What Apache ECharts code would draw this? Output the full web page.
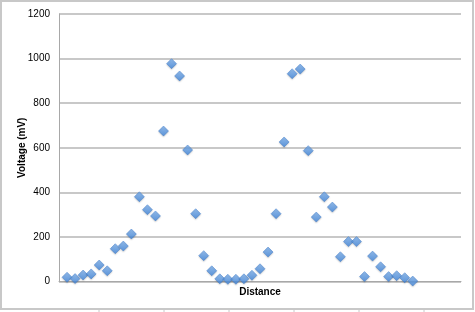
<!DOCTYPE html>
<html>
<head>
<meta charset="utf-8">
<script src="https://cdn.jsdelivr.net/npm/echarts@6/dist/echarts.min.js"></script>
<style>html,body{margin:0;padding:0;background:#fff}#c{width:475px;height:312px}</style>
</head>
<body>
<div id="c"></div>
<script>
var distance = [1,2,3,4,5,6,7,8,9,10,11,12,13,14,15,16,17,18,19,20,21,22,23,24,25,26,27,28,29,30,31,32,33,34,35,36,37,38,39,40,41,42,43,44];
var voltage = [19,13,29,34,74,48,147,159,213,380,322,294,675,977,922,590,304,116,48,12,10,10,12,28,57,132,304,626,932,953,587,289,380,334,111,179,179,22,114,66,22,26,17,2];
var yTicks = {min:0, max:1200, interval:200};
var xRange = {min:0, max:50};

var data = distance.map(function(d,i){return [d, voltage[i]];});
var chart = echarts.init(document.getElementById('c'), null, {renderer:'canvas'});
var frameTicks = [];
[99,164,229,294,359,424].forEach(function(x){
  frameTicks.push({type:'line', shape:{x1:x,y1:309,x2:x,y2:312}, style:{stroke:'#c8c8c8', lineWidth:1}});
});
chart.setOption({
  animation:false,
  backgroundColor:'#fff',
  graphic: [{type:'rect', shape:{x:1,y:1,width:472,height:308}, style:{fill:'none', stroke:'#c8c8c8', lineWidth:2}, z:-1}].concat(frameTicks),
  grid:{left:59, right:14, top:14, bottom:30.5, containLabel:false, outerBoundsMode:'none'},
  xAxis:{
    type:'value', min:xRange.min, max:xRange.max,
    name:'Distance', nameLocation:'middle', nameGap:6, nameMoveOverlap:false,
    nameTextStyle:{fontFamily:'Liberation Sans', fontSize:10, fontWeight:'bold', color:'#000'},
    axisLabel:{show:false}, axisTick:{show:false}, splitLine:{show:false},
    axisLine:{show:true, lineStyle:{color:'#a8a8a8', width:1}}
  },
  yAxis:{
    type:'value', min:yTicks.min, max:yTicks.max, interval:yTicks.interval,
    name:'Voltage (mV)', nameLocation:'middle', nameGap:32, nameRotate:90, nameMoveOverlap:false,
    nameTextStyle:{fontFamily:'Liberation Sans', fontSize:10, fontWeight:'bold', color:'#000'},
    axisLabel:{fontFamily:'Liberation Sans', fontSize:10, color:'#000', margin:9, formatter:function(v){return String(v);}},
    axisTick:{show:false},
    axisLine:{show:true, lineStyle:{color:'#a8a8a8', width:1}},
    splitLine:{show:true, lineStyle:{color:'#c8c8c8', width:2}}
  },
  series:[{
    type:'scatter', data:data, symbol:'diamond', symbolSize:10,
    itemStyle:{
      color:new echarts.graphic.LinearGradient(0,0,0,1,[{offset:0,color:'#80b4f0'},{offset:1,color:'#3a80d6'}]),
      borderColor:'#3a78c8', borderWidth:0.6,
      shadowColor:'rgba(0,0,0,0.2)', shadowBlur:1.5, shadowOffsetY:1
    }
  }]
});
</script>
</body>
</html>
